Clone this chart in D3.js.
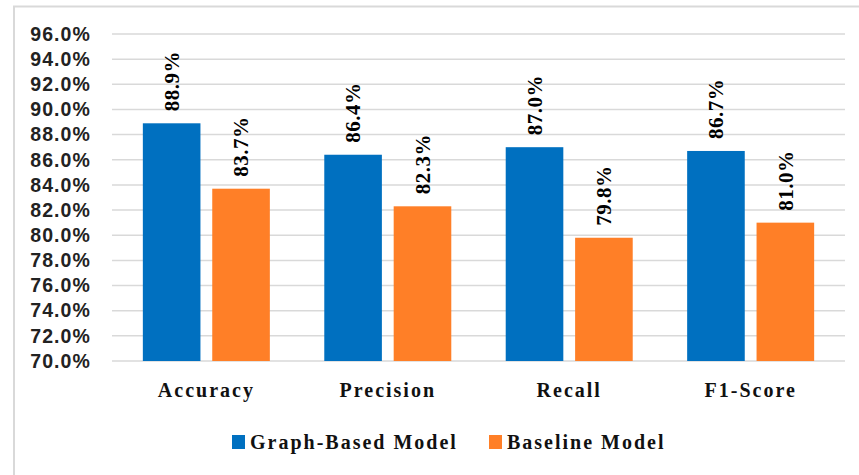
<!DOCTYPE html>
<html>
<head>
<meta charset="utf-8">
<script src="https://cdn.jsdelivr.net/npm/d3@7"></script>
<style>
  html, body { margin: 0; padding: 0; background: #fff; }
  svg { display: block; }
</style>
</head>
<body>
<svg id="chart" width="859" height="475"></svg>
<script>
// Metric scores for the two models
const categories = ["Accuracy", "Precision", "Recall", "F1-Score"];
const seriesNames = ["Graph-Based Model", "Baseline Model"];
const graphBased = [88.9, 86.4, 87.0, 86.7];
const baseline = [83.7, 82.3, 79.8, 81.0];
const yTicks = [70, 72, 74, 76, 78, 80, 82, 84, 86, 88, 90, 92, 94, 96];
const colors = ["#0070C0", "#FF7F27"];

const series = [graphBased, baseline];
const rows = categories.map((c, i) => ({
  category: c,
  values: series.map((s, j) => ({ key: seriesNames[j], idx: j, value: s[i] }))
}));

const svg = d3.select("#chart");
const W = 859, H = 475;
const margin = { left: 112, right: 14, top: 34, bottom: 114 };

// Chart area frame (top and left edges visible)
svg.append("path")
  .attr("d", `M14,${H} L14,6.5 L${W},6.5`)
  .attr("fill", "none")
  .attr("stroke", "#d9d9d9")
  .attr("stroke-width", 2);

const y = d3.scaleLinear()
  .domain([70, 96])
  .range([H - margin.bottom, margin.top]);

const x0 = d3.scaleBand()
  .domain(categories)
  .range([margin.left, W - margin.right])
  .paddingInner(0.30)
  .paddingOuter(0.17);

const x1 = d3.scaleBand()
  .domain(seriesNames)
  .range([0, x0.bandwidth()])
  .paddingInner(0.17);

// Horizontal gridlines
svg.append("g")
  .selectAll("line")
  .data(yTicks)
  .join("line")
  .attr("x1", margin.left)
  .attr("x2", W - margin.right)
  .attr("y1", d => y(d))
  .attr("y2", d => y(d))
  .attr("stroke", "#d9d9d9")
  .attr("stroke-width", 1.5);

// Y axis labels
const yAxis = d3.axisLeft(y)
  .tickValues(yTicks)
  .tickFormat(d => d.toFixed(1) + "%")
  .tickSize(0)
  .tickPadding(21);

svg.append("g")
  .attr("transform", `translate(${margin.left},0)`)
  .call(yAxis)
  .call(g => g.select(".domain").remove())
  .call(g => g.selectAll("text")
    .attr("font-family", "'Liberation Sans', Arial, sans-serif")
    .attr("font-weight", "bold")
    .attr("font-size", 19.5)
    .attr("letter-spacing", "1.1px")
    .attr("fill", "#222"));

// Bars
const groups = svg.append("g")
  .selectAll("g")
  .data(rows)
  .join("g")
  .attr("transform", d => `translate(${x0(d.category)},0)`);

groups.selectAll("rect")
  .data(d => d.values)
  .join("rect")
  .attr("x", d => x1(d.key))
  .attr("width", x1.bandwidth())
  .attr("y", d => y(d.value))
  .attr("height", d => y(70) - y(d.value))
  .attr("fill", d => colors[d.idx]);

// Rotated value labels above each bar
groups.selectAll("text.value")
  .data(d => d.values)
  .join("text")
  .attr("class", "value")
  .attr("transform", d => `translate(${x1(d.key) + x1.bandwidth() / 2},${y(d.value) - 12}) rotate(-90)`)
  .attr("dy", "0.35em")
  .attr("text-anchor", "start")
  .attr("font-family", "'Liberation Serif', 'Times New Roman', serif")
  .attr("font-weight", "bold")
  .attr("font-size", 21)
  .attr("letter-spacing", "0.5px")
  .attr("fill", "#000")
  .text(d => d.value.toFixed(1) + "%");

// X axis category labels
const xAxis = d3.axisBottom(x0).tickSize(0).tickPadding(22);
svg.append("g")
  .attr("transform", `translate(0,${y(70)})`)
  .call(xAxis)
  .call(g => g.select(".domain").remove())
  .call(g => g.selectAll("text")
    .attr("font-family", "'Liberation Serif', 'Times New Roman', serif")
    .attr("font-weight", "bold")
    .attr("font-size", 20)
    .attr("letter-spacing", "2px")
    .attr("fill", "#111"));

// Legend
const legendItems = [
  { name: seriesNames[0], color: colors[0], x: 232 },
  { name: seriesNames[1], color: colors[1], x: 489 }
];
const legend = svg.append("g").attr("transform", "translate(0,442)");
const li = legend.selectAll("g")
  .data(legendItems)
  .join("g")
  .attr("transform", d => `translate(${d.x},0)`);
li.append("rect")
  .attr("x", 0).attr("y", -7)
  .attr("width", 13).attr("height", 14)
  .attr("fill", d => d.color);
li.append("text")
  .attr("x", 18)
  .attr("y", 7)
  .attr("font-family", "'Liberation Serif', 'Times New Roman', serif")
  .attr("font-weight", "bold")
  .attr("font-size", 20)
  .attr("letter-spacing", "2px")
  .attr("fill", "#111")
  .text(d => d.name);
</script>
</body>
</html>
